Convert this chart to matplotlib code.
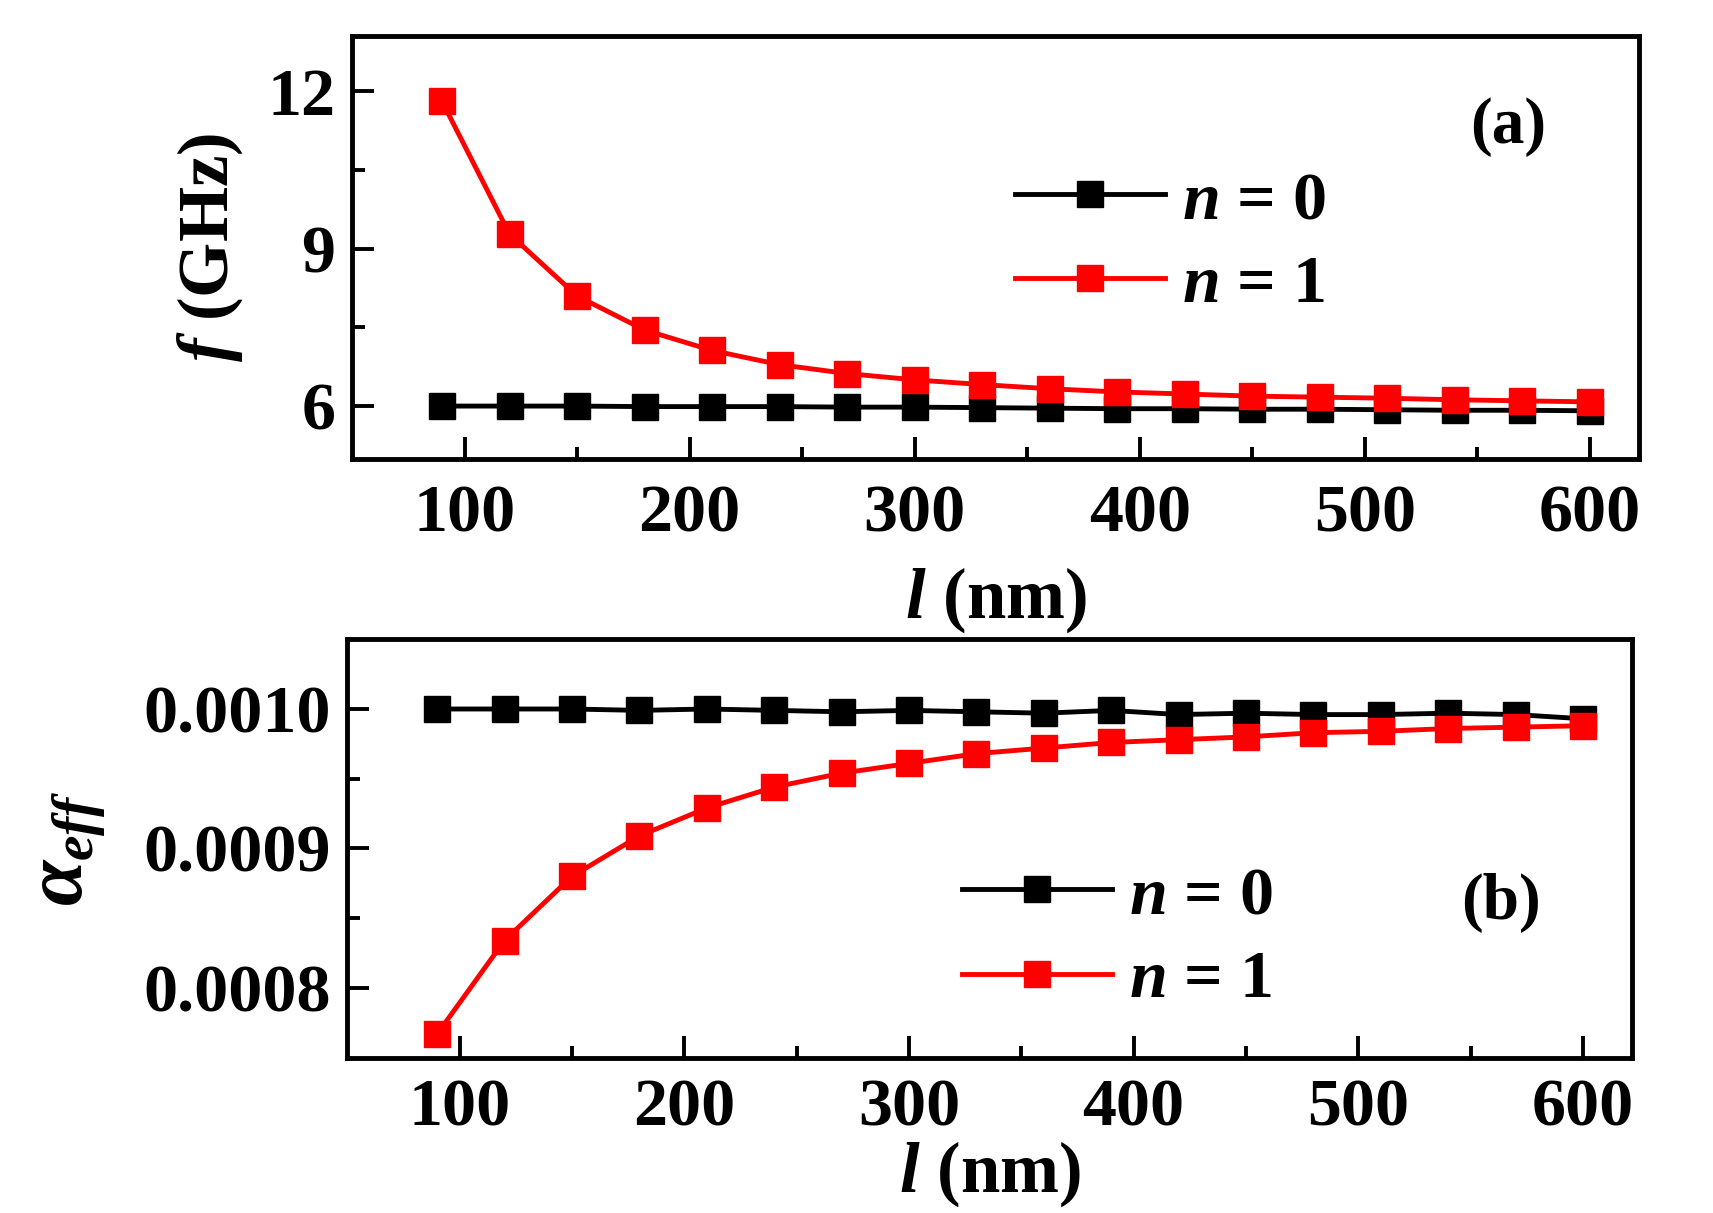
import numpy as np
import matplotlib
matplotlib.use('Agg')
import matplotlib.pyplot as plt

# longitude l (nm)
l_vals = [90, 120, 150, 180, 210, 240, 270, 300, 330, 360, 390, 420, 450, 480, 510, 540, 570, 600]

# frequencia (GHz)
f_n0 = [6.00, 6.00, 6.00, 5.99, 5.99, 5.99, 5.98, 5.98, 5.97, 5.96, 5.95, 5.95, 5.94, 5.94, 5.93, 5.92, 5.92, 5.91]
f_n1 = [11.81, 9.28, 8.10, 7.45, 7.06, 6.79, 6.62, 6.50, 6.41, 6.33, 6.27, 6.23, 6.19, 6.17, 6.15, 6.12, 6.10, 6.08]

# amortecimento efetivo
a_n0 = [0.001000, 0.001000, 0.001000, 0.000999, 0.001000, 0.000999, 0.000998, 0.000999, 0.000998, 0.000997, 0.000999,
        0.000996, 0.000997, 0.000996, 0.000996, 0.000997, 0.000996, 0.000993]
a_n1 = [0.000767, 0.000834, 0.000880, 0.000909, 0.000929, 0.000944, 0.000954, 0.000961, 0.000968, 0.000972, 0.000976,
        0.000978, 0.000980, 0.000983, 0.000984, 0.000986, 0.000987, 0.000988]

plt.rcParams['font.family'] = 'Liberation Serif'
plt.rcParams['font.weight'] = 'bold'
plt.rcParams['mathtext.fontset'] = 'custom'
plt.rcParams['mathtext.rm'] = 'Liberation Serif:bold'
plt.rcParams['mathtext.it'] = 'Liberation Serif:italic:bold'
plt.rcParams['mathtext.bf'] = 'Liberation Serif:bold'

fs = 49

fig = plt.figure(figsize=(17.13, 12.13), dpi=100)
ax1 = fig.add_axes([0.2055, 0.622, 0.7515, 0.348])
ax2 = fig.add_axes([0.2027, 0.128, 0.7503, 0.345])


def style_axis(ax, xpad):
    for s in ax.spines.values():
        s.set_linewidth(3.5)
    ax.tick_params(which='both', direction='in', top=False, right=False, width=2.8,
                   labelsize=fs)
    ax.tick_params(axis='y', pad=12)
    ax.tick_params(axis='x', pad=xpad)
    ax.tick_params(which='major', length=16)
    ax.tick_params(which='minor', length=9)
    ax.set_xlim(50, 622)
    ax.set_xticks([100, 200, 300, 400, 500, 600])
    ax.set_xticks([150, 250, 350, 450, 550], minor=True)
    for t in ax.get_xticklabels() + ax.get_yticklabels():
        t.set_fontweight('bold')


style_axis(ax1, 19)
ax1.plot(l_vals, f_n0, 's-', color='black', lw=3.5, ms=18.5, label=r'$n$ = 0')
ax1.plot(l_vals, f_n1, 's-', color='red', lw=3.5, ms=18.5, label=r'$n$ = 1')
ax1.set_ylim(5.0, 13.05)
ax1.set_yticks([6, 9, 12])
ax1.set_yticks([7.5, 10.5], minor=True)
ax1.set_ylabel(r'$f$ (GHz)', fontsize=fs + 2, fontweight='bold', labelpad=16)
ax1.set_xlabel(r'$l$ (nm)', fontsize=fs + 2, fontweight='bold', labelpad=14)
ax1.text(0.898, 0.785, '(a)', transform=ax1.transAxes, fontsize=fs - 2, fontweight='bold',
         ha='center', va='center')
ax1.legend(loc='center left', bbox_to_anchor=(0.494, 0.51), frameon=False, fontsize=fs,
           handlelength=2.2, handletextpad=0.25, labelspacing=0.33, borderaxespad=0)

style_axis(ax2, 15)
ax2.plot(l_vals, a_n0, 's-', color='black', lw=3.5, ms=18.5, label=r'$n$ = 0')
ax2.plot(l_vals, a_n1, 's-', color='red', lw=3.5, ms=18.5, label=r'$n$ = 1')
ax2.set_ylim(0.00075, 0.00105)
ax2.set_yticks([0.0008, 0.0009, 0.0010])
ax2.set_yticks([0.00085, 0.00095], minor=True)
ax2.set_yticklabels(['0.0008', '0.0009', '0.0010'])
ax2.set_ylabel(r'$\alpha_{eff}$', fontsize=fs + 10, fontweight='bold', labelpad=26)
ax2.set_xlabel(r'$l$ (nm)', fontsize=fs + 2, fontweight='bold', labelpad=0)
ax2.text(0.898, 0.37, '(b)', transform=ax2.transAxes, fontsize=fs - 2, fontweight='bold',
         ha='center', va='center')
ax2.legend(loc='center left', bbox_to_anchor=(0.457, 0.285), frameon=False, fontsize=fs,
           handlelength=2.2, handletextpad=0.25, labelspacing=0.33, borderaxespad=0)

plt.savefig('out.png', dpi=100)
